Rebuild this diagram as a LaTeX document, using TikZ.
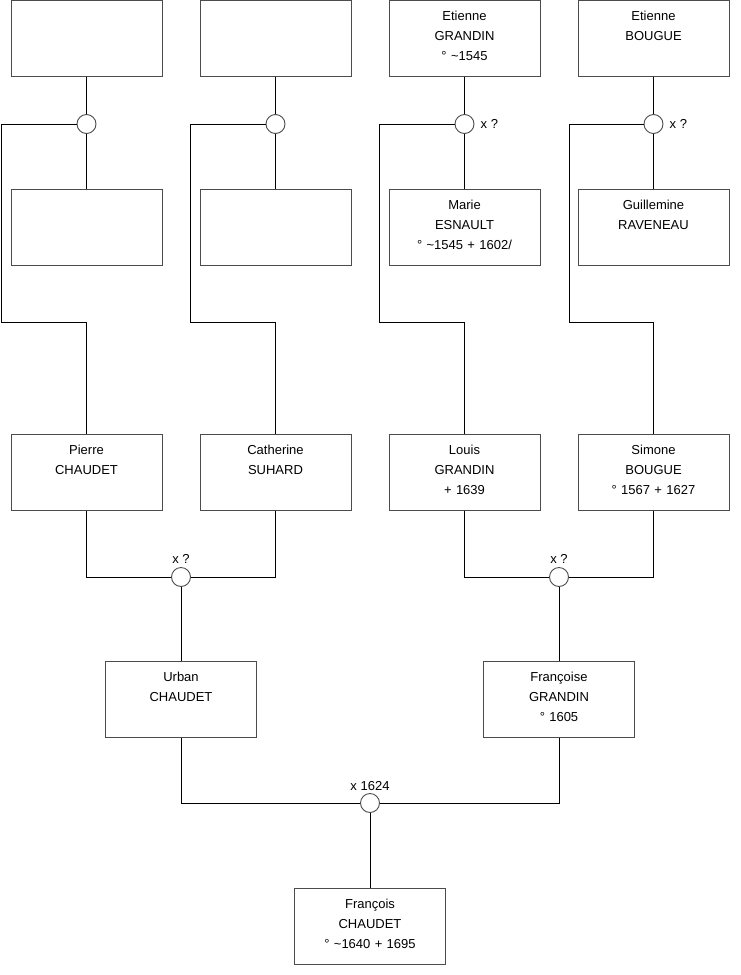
\documentclass[tikz,border=0pt]{standalone}
\usepackage{fontspec}
\setmainfont{Liberation Sans}
\begin{document}
\begin{tikzpicture}[x=1pt,y=-1pt,
  person/.style={draw=black!70, line width=0.9pt, rectangle, inner sep=0pt,
    minimum width=151pt, minimum height=76pt, text width=151pt, align=center,
    text height=20pt, text depth=56pt, font=\fontsize{13}{20}\selectfont},
  union/.style={circle, draw=black!70, fill=white, line width=0.9pt,
    minimum size=19pt, inner sep=0pt},
  link/.style={draw=black, line width=0.9pt},
  lab/.style={font=\fontsize{13}{15}\selectfont, inner sep=0pt}]
\useasboundingbox (0,0) rectangle (740,975);

% generation 1
\node[person] (a1) at (86.5,38.3) {};
\node[person] (a2) at (275.5,38.3) {};
\node[person] (a3) at (464.5,38.3) {Etienne\\GRANDIN\\° \textasciitilde 1545};
\node[person] (a4) at (653.5,38.3) {Etienne\\BOUGUE};

% generation 1 spouses
\node[person] (b1) at (86.5,227.5) {};
\node[person] (b2) at (275.5,227.5) {};
\node[person] (b3) at (464.5,227.5) {Marie\\ESNAULT\\° \textasciitilde 1545 + 1602/};
\node[person] (b4) at (653.5,227.5) {Guillemine\\RAVENEAU};

% generation 2
\node[person] (c1) at (86.5,472.5) {Pierre\\CHAUDET};
\node[person] (c2) at (275.5,472.5) {Catherine\\SUHARD};
\node[person] (c3) at (464.5,472.5) {Louis\\GRANDIN\\+ 1639};
\node[person] (c4) at (653.5,472.5) {Simone\\BOUGUE\\° 1567 + 1627};

% generation 3
\node[person] (d1) at (181,699.5) {Urban\\CHAUDET};
\node[person] (d2) at (559,699.5) {Françoise\\GRANDIN\\° 1605};

% generation 4
\node[person] (e1) at (370,926.5) {François\\CHAUDET\\° \textasciitilde 1640 + 1695};

% corner points of the outer lines
\coordinate (k1) at (1.7,322);
\coordinate (k2) at (190.3,322);
\coordinate (k3) at (379.3,322);
\coordinate (k4) at (569,322);

% connectors
\draw[link] (a1.south) -- (b1.north);
\draw[link] (a2.south) -- (b2.north);
\draw[link] (a3.south) -- (b3.north);
\draw[link] (a4.south) -- (b4.north);

\node[union] (u1) at (86.5,124) {};
\node[union] (u2) at (275.5,124) {};
\node[union] (u3) at (464.5,124) {};
\node[union] (u4) at (653.5,124) {};

\draw[link] (u1.west) -| (k1) -| (c1.north);
\draw[link] (u2.west) -| (k2) -| (c2.north);
\draw[link] (u3.west) -| (k3) -| (c3.north);
\draw[link] (u4.west) -| (k4) -| (c4.north);

\node[union] (m1) at (181,577) {};
\node[union] (m2) at (559,577) {};
\draw[link] (c1.south) |- (m1.west);
\draw[link] (c2.south) |- (m1.east);
\draw[link] (c3.south) |- (m2.west);
\draw[link] (c4.south) |- (m2.east);
\draw[link] (m1.south) -- (d1.north);
\draw[link] (m2.south) -- (d2.north);

\node[union] (m3) at (370,803) {};
\draw[link] (d1.south) |- (m3.west);
\draw[link] (d2.south) |- (m3.east);
\draw[link] (m3.south) -- (e1.north);

% labels
\node[lab, anchor=base west] (l3) at ([xshift=6pt,yshift=-4.3pt]u3.east) {x ?};
\node[lab, anchor=base west] (l4) at ([xshift=6pt,yshift=-4.3pt]u4.east) {x ?};
\node[lab, anchor=base] (l5) at ([yshift=4pt]m1.north) {x ?};
\node[lab, anchor=base] (l6) at ([yshift=4pt]m2.north) {x ?};
\node[lab, anchor=base] (l7) at ([yshift=3pt]m3.north) {x 1624};
\end{tikzpicture}
\end{document}
